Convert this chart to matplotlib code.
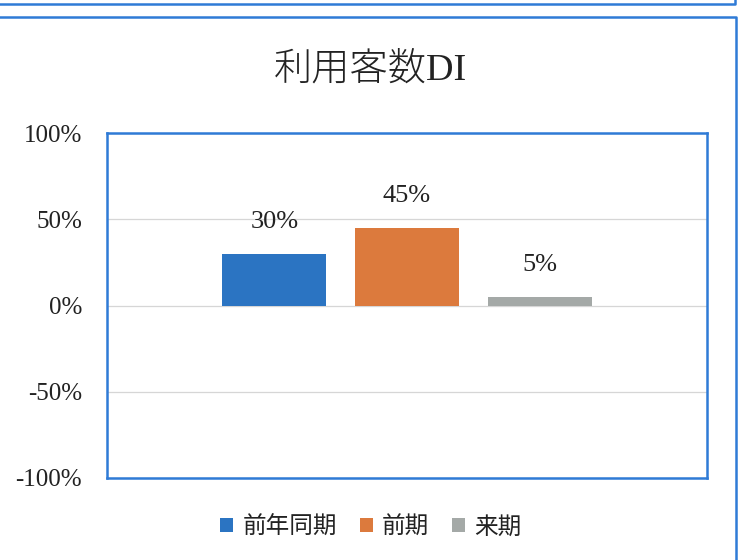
import matplotlib
matplotlib.use('Agg')
import matplotlib.pyplot as plt
from matplotlib.lines import Line2D
import numpy as np

# series for the DI chart (percent)
series_names = ['前年同期', '前期', '来期']
series_values = [30, 45, 5]
series_colors = ['#2b74c2', '#dc7a3d', '#a4a9a7']
ytick_values = [-100, -50, 0, 50, 100]
ytick_labels = ['-100%', '-50%', '0%', '50%', '100%']
title = '利用客数DI'

frame_blue = '#2f7bd6'
num_font = ['Liberation Serif', 'Noto Sans CJK JP']
cjk_font = ['Noto Sans CJK JP', 'DejaVu Sans']

W, H = 744, 560
fig = plt.figure(figsize=(W / 100, H / 100), dpi=100)
fig.patch.set_facecolor('white')


def px(x, y):
    """pixel coords (top-left origin) -> figure fraction"""
    return x / W, 1 - y / H


# surrounding page boxes
for xs, ys in [([0, 735, 735], [4, 4, 0]),
               ([0, 736, 736], [17, 17, 560])]:
    pts = [px(x, y) for x, y in zip(xs, ys)]
    fig.add_artist(Line2D([p[0] for p in pts], [p[1] for p in pts],
                          transform=fig.transFigure, color=frame_blue, lw=1.8))

l, t = px(107, 133)
r, b = px(707, 478)
ax = fig.add_axes([l, b, r - l, t - b])

x = np.arange(len(series_values)) - 1
bars = []
for xi, v, c, name in zip(x, series_values, series_colors, series_names):
    bc = ax.bar(xi, v, width=0.78, color=c, label=name, zorder=3)
    ax.bar_label(bc, labels=[f'{v}%'], padding=15, fontsize=19,
                 family=num_font, color='#222222')
    bars.append(bc)

ax.set_xlim(-2.26, 2.26)
ax.set_ylim(-100, 100)
ax.set_xticks([])
ax.set_yticks(ytick_values)
ax.set_yticklabels(ytick_labels, family=num_font, fontsize=18, color='#222222')
ax.tick_params(axis='y', length=0, pad=18)
ax.grid(axis='y', color='#d6d6d6', lw=0.9, zorder=0)
for sp in ax.spines.values():
    sp.set_color(frame_blue)
    sp.set_linewidth(1.8)

fig.text(*px(370, 70), title, ha='center', va='center', fontsize=27.5,
         family=num_font, fontweight='light', color='#222222')

fig.legend(handles=[bc[0] for bc in bars], labels=series_names,
           loc='center', bbox_to_anchor=px(371, 527), ncol=3, frameon=False,
           prop={'family': cjk_font, 'size': 17}, handlelength=0.55,
           handleheight=0.55, handletextpad=0.4, columnspacing=0.95,
           labelcolor='#222222')

fig.savefig('out.png', dpi=100)
